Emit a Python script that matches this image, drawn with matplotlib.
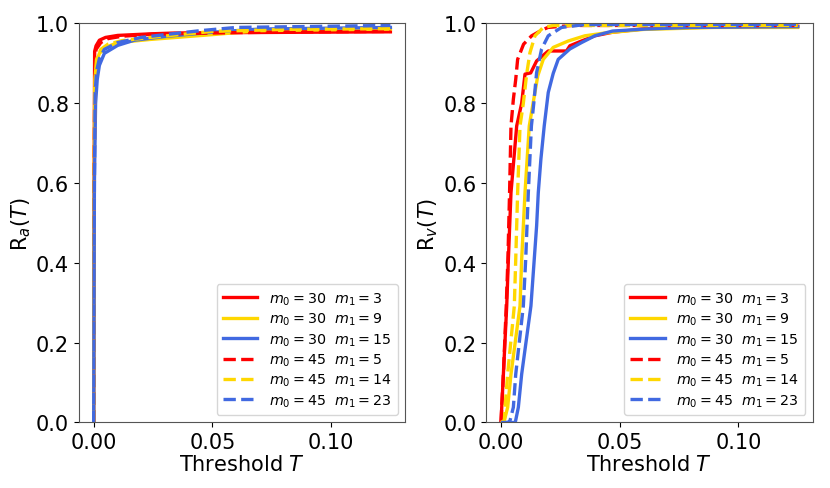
import matplotlib
matplotlib.use("Agg")
import matplotlib.pyplot as plt

labels = [r"$m_0=30\ \ m_1=3$", r"$m_0=30\ \ m_1=9$", r"$m_0=30\ \ m_1=15$",
          r"$m_0=45\ \ m_1=5$", r"$m_0=45\ \ m_1=14$", r"$m_0=45\ \ m_1=23$"]
colors = ["#ff0000", "#ffd700", "#4169e1", "#ff0000", "#ffd700", "#4169e1"]
styles = ["-", "-", "-", "--", "--", "--"]

# Left panel: R_a(T)
ra_x = [
    [0, 0.0002, 0.0004, 0.001, 0.0024, 0.005, 0.0101, 0.024, 0.034, 0.06, 0.09, 0.125],
    [0, 0.0002, 0.0004, 0.001, 0.0024, 0.005, 0.0101, 0.024, 0.037, 0.05, 0.07, 0.125],
    [0, 0.0003, 0.0008, 0.0015, 0.0024, 0.0045, 0.0101, 0.0171, 0.031, 0.05, 0.07, 0.125],
    [0, 0.0002, 0.0005, 0.001, 0.003, 0.006, 0.012, 0.025, 0.04, 0.06, 0.09, 0.125],
    [0, 0.0002, 0.0005, 0.0012, 0.003, 0.006, 0.012, 0.024, 0.036, 0.05, 0.08, 0.125],
    [0, 0.0003, 0.0006, 0.0012, 0.0024, 0.0045, 0.0101, 0.02, 0.03, 0.045, 0.06, 0.125],
]
ra_y = [
    [0, 0.60, 0.93, 0.944, 0.958, 0.965, 0.970, 0.974, 0.976, 0.977, 0.978, 0.979],
    [0, 0.60, 0.84, 0.90, 0.925, 0.94, 0.952, 0.96, 0.966, 0.972, 0.982, 0.986],
    [0, 0.60, 0.80, 0.86, 0.895, 0.925, 0.945, 0.958, 0.968, 0.978, 0.986, 0.990],
    [0, 0.60, 0.90, 0.935, 0.952, 0.962, 0.968, 0.973, 0.975, 0.977, 0.979, 0.980],
    [0, 0.60, 0.86, 0.91, 0.935, 0.948, 0.957, 0.965, 0.972, 0.980, 0.985, 0.987],
    [0, 0.60, 0.82, 0.88, 0.912, 0.935, 0.952, 0.965, 0.972, 0.982, 0.990, 0.995],
]

# Right panel: R_v(T)
rv_x = [
    [0, 0.0003, 0.001, 0.0024, 0.0031, 0.0042, 0.0066, 0.0087, 0.0101, 0.0125, 0.015, 0.0199, 0.0276, 0.029, 0.0339, 0.0395, 0.047, 0.061, 0.08, 0.125],
    [0, 0.0014, 0.0028, 0.0042, 0.008, 0.0087, 0.0101, 0.0119, 0.0135, 0.0155, 0.0178, 0.022, 0.0283, 0.0353, 0.0437, 0.06, 0.09, 0.125],
    [0, 0.006, 0.0073, 0.0087, 0.0126, 0.014, 0.015, 0.0157, 0.0168, 0.0182, 0.0199, 0.022, 0.0241, 0.029, 0.0339, 0.0395, 0.047, 0.061, 0.08, 0.125],
    [0, 0.0003, 0.001, 0.0022, 0.0029, 0.0036, 0.0042, 0.0052, 0.0062, 0.007, 0.0095, 0.0129, 0.0171, 0.0198, 0.03, 0.125],
    [0, 0.0014, 0.0017, 0.0028, 0.0056, 0.0062, 0.007, 0.008, 0.0094, 0.0108, 0.0122, 0.0143, 0.0178, 0.022, 0.125],
    [0, 0.003, 0.0038, 0.0052, 0.0062, 0.0094, 0.0104, 0.0115, 0.0128, 0.0138, 0.015, 0.0171, 0.0199, 0.0255, 0.035, 0.125],
]
rv_y = [
    [0, 0.038, 0.121, 0.292, 0.409, 0.576, 0.743, 0.80, 0.873, 0.876, 0.906, 0.931, 0.931, 0.944, 0.956, 0.969, 0.978, 0.987, 0.990, 0.993],
    [0, 0.005, 0.038, 0.121, 0.292, 0.409, 0.576, 0.743, 0.80, 0.869, 0.91, 0.94, 0.956, 0.969, 0.976, 0.985, 0.990, 0.990],
    [0, 0.0, 0.038, 0.121, 0.292, 0.409, 0.493, 0.576, 0.66, 0.743, 0.827, 0.875, 0.91, 0.936, 0.952, 0.969, 0.981, 0.986, 0.990, 0.992],
    [0, 0.038, 0.121, 0.292, 0.409, 0.576, 0.743, 0.81, 0.86, 0.91, 0.948, 0.969, 0.983, 0.990, 0.995, 0.995],
    [0, 0.005, 0.038, 0.121, 0.292, 0.409, 0.576, 0.743, 0.80, 0.873, 0.927, 0.969, 0.990, 0.995, 0.995],
    [0, 0.0, 0.005, 0.038, 0.121, 0.292, 0.409, 0.576, 0.743, 0.80, 0.877, 0.936, 0.969, 0.990, 0.997, 0.998],
]

xticks = [0.00, 0.05, 0.10]
yticks = [0.0, 0.2, 0.4, 0.6, 0.8, 1.0]

fig, axes = plt.subplots(1, 2, figsize=(8.3, 4.89), dpi=100)
fig.subplots_adjust(left=0.095, right=0.979, top=0.950, bottom=0.134, wspace=0.248)

for ax, xs, ys, ylab in [(axes[0], ra_x, ra_y, r"R$_a(T)$"), (axes[1], rv_x, rv_y, r"R$_v(T)$")]:
    for i in range(6):
        ax.plot(xs[i], ys[i], color=colors[i], linestyle=styles[i], lw=2.4, label=labels[i])
    ax.set_ylim(0, 1)
    ax.set_xticks(xticks)
    ax.set_xticklabels(["0.00", "0.05", "0.10"])
    ax.set_yticks(yticks)
    ax.set_yticklabels(["0.0", "0.2", "0.4", "0.6", "0.8", "1.0"])
    ax.tick_params(labelsize=15)
    ax.set_xlabel(r"Threshold $T$", fontsize=15, labelpad=1)
    ax.set_ylabel(ylab, fontsize=15, labelpad=2)
    ax.legend(loc="lower right", fontsize=10.3, handlelength=2.4, labelspacing=0.28,
              borderpad=0.45)
    for s in ax.spines.values():
        s.set_color("#555555")

fig.savefig("out.png", dpi=100)
